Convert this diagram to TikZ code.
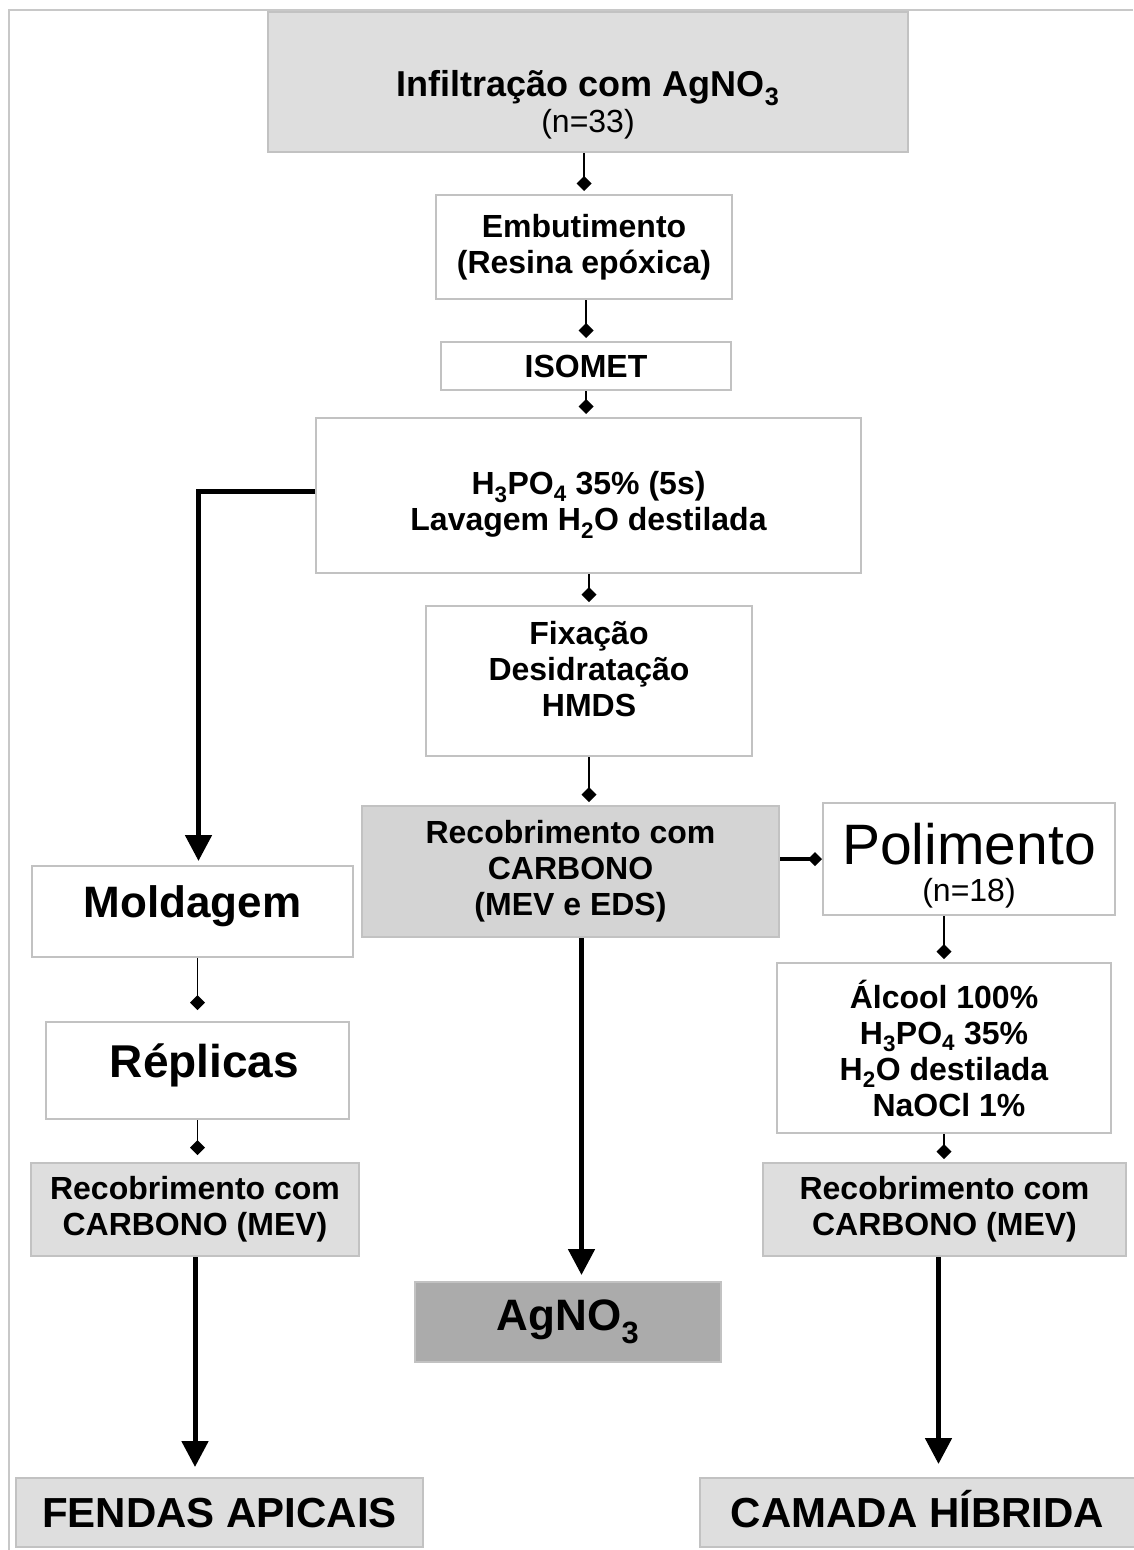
\documentclass[tikz,border=0pt]{standalone}
\usepackage{fontspec}
\setmainfont{Liberation Sans}
\usetikzlibrary{arrows.meta}
\definecolor{boxline}{HTML}{C2C2C2}
\definecolor{framegray}{HTML}{C8C8C8}
\definecolor{lightfill}{HTML}{DEDEDE}
\definecolor{midfill}{HTML}{D4D4D4}
\definecolor{darkfill}{HTML}{ABABAB}
\newcommand{\chemsub}[1]{\textsubscript{#1}}
\begin{document}
\begin{tikzpicture}[x=1pt,y=-1pt,
    link/.style={line width=1.8pt,-{Diamond[length=15pt,width=15pt]},shorten >=3pt},
    bigarrow/.style={line width=5pt,-{Triangle[length=26pt,width=26pt]},shorten >=4pt},
    bigtext/.style={font=\fontsize{44}{44}\selectfont\bfseries,text height=32pt,text depth=21pt},
    endtext/.style={font=\fontsize{42}{42}\selectfont\bfseries,text height=30pt,text depth=0pt}]

        \useasboundingbox (0,0) rectangle (1133,1550);
        \draw[framegray,line width=2pt] (9,1550) -- (9,10) -- (1133,10);

        \begin{scope}[every node/.style={rectangle,draw=boxline,line width=2pt,align=center,inner sep=0pt,
            font=\fontsize{32}{36}\selectfont\bfseries}]
          \node[fill=lightfill,minimum width=640pt,minimum height=140pt] (infil) at (588,82)
            {\rule{0pt}{71pt}{\fontsize{36}{36}\selectfont Infiltração com AgNO\chemsub{3}}\\{\mdseries (n=33)}};
          \node[minimum width=296pt,minimum height=104pt] (embut)  at (584,247)  {Embutimento\\(Resina epóxica)};
          \node[minimum width=290pt,minimum height=48pt]  (isomet) at (586,366)  {ISOMET};
          \node[minimum width=545pt,minimum height=155pt] (acid)   at (588.5,495.5)
            {\rule{0pt}{42pt}H\chemsub{3}PO\chemsub{4} 35\% (5s)\\Lavagem H\chemsub{2}O destilada};
          \node[minimum width=326pt,minimum height=150pt] (fix)    at (589,681)
            {Fixação\\Desidratação\\HMDS\rule[-24pt]{0pt}{24pt}};
          \node[fill=midfill,minimum width=417pt,minimum height=131pt] (recob) at (570.5,871.5)
            {Recobrimento com\\CARBONO\\(MEV e EDS)};
          \node[minimum width=292pt,minimum height=112pt,font=\fontsize{32}{37}\selectfont] (polim) at (969,859)
            {\rule{0pt}{55pt}{\fontsize{57}{57}\selectfont Polimento}\\(n=18)};
          \node[minimum width=334pt,minimum height=170pt] (alcool) at (944,1048)
            {Álcool 100\%\\H\chemsub{3}PO\chemsub{4} 35\%\\H\chemsub{2}O destilada\\\hspace*{10pt}NaOCl 1\%};
          \node[fill=lightfill,minimum width=363pt,minimum height=93pt] (recobR) at (944.5,1209.5)
            {Recobrimento com\\CARBONO (MEV)};
          \node[fill=lightfill,minimum width=435pt,minimum height=69pt,endtext] (camada) at (917.5,1512.5)
            {CAMADA HÍBRIDA};
          \node[fill=darkfill,minimum width=306pt,minimum height=80pt,font=\fontsize{44}{44}\selectfont\bfseries]
            (agno3) at (568,1322) {AgNO\chemsub{3}};
          \node[minimum width=321pt,minimum height=91pt,bigtext] (molda) at (192.5,911.5) {Moldagem};
          \node[minimum width=303pt,minimum height=97pt,bigtext,font=\fontsize{46}{46}\selectfont\bfseries,
            text height=34pt] (replic) at (197.5,1070.5) {\hspace*{14pt}Réplicas};
          \node[fill=lightfill,minimum width=328pt,minimum height=93pt] (recobL) at (195,1209.5)
            {Recobrimento com\\CARBONO (MEV)};
          \node[fill=lightfill,minimum width=407pt,minimum height=69pt,endtext] (fendas) at (219.5,1512.5)
            {FENDAS APICAIS};
        \end{scope}

        \draw[link] (embut.north |- infil.south) -- (embut.north);
        \draw[link] (isomet.north |- embut.south) -- (isomet.north);
        \draw[link] (isomet.south) -- (isomet.south |- acid.north);
        \draw[link] (fix.north |- acid.south) -- (fix.north);
        \draw[link] (fix.south) -- (fix.south |- recob.north);
        \draw[line width=4.5pt,-{Diamond[length=14pt,width=14pt]}] (recob.east |- polim.west) -- (polim.west);
        \draw[link] (alcool.north |- polim.south) -- (alcool.north);
        \draw[link] (alcool.south) -- (alcool.south |- recobR.north);
        \draw[link,shorten >=11pt] (replic.north |- molda.south) -- (replic.north);
        \draw[link,shorten >=7pt] (replic.south) -- (replic.south |- recobL.north);

        \draw[bigarrow] ([yshift=4pt]acid.west) -| ([xshift=6pt]molda.north);
        \draw[bigarrow,shorten >=6pt] ([xshift=11pt]recob.south) -- ([xshift=11pt]recob.south |- agno3.north);
        \draw[bigarrow,shorten >=10pt] (recobL.south) -- (recobL.south |- fendas.north);
        \draw[bigarrow,shorten >=13pt] ([xshift=-6pt]recobR.south) -- ([xshift=-6pt]recobR.south |- camada.north);

      \end{tikzpicture}
\end{document}
